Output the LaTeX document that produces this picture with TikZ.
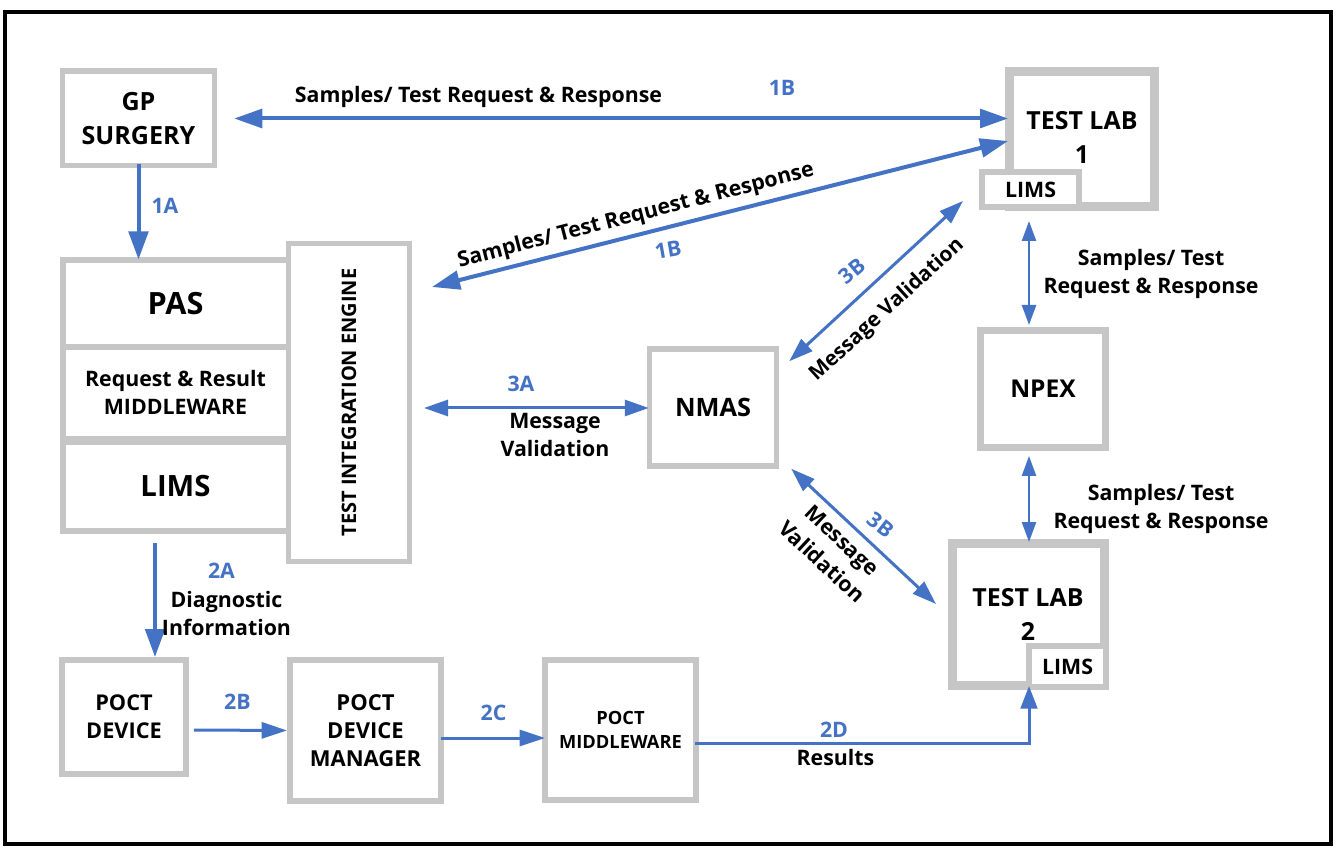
\documentclass[tikz,border=0pt]{standalone}
\usepackage{fontspec}
\setmainfont{Open Sans}
\usetikzlibrary{arrows.meta,calc}
\definecolor{bl}{HTML}{4472C4}
\definecolor{gr}{HTML}{C6C6C6}
\def\u{0.75pt}
\tikzset{
  x=0.75pt,y=-0.75pt,
  bx/.style={draw=gr,fill=white,inner sep=0pt,align=center,text=black,font=\bfseries\fontsize{16pt}{21pt}\selectfont},
  lbl/.style={inner sep=0pt,align=center,text=black,font=\bfseries\fontsize{16pt}{21pt}\selectfont},
  num/.style={inner sep=0pt,text=bl,font=\bfseries\fontsize{16pt}{18pt}\selectfont},
  ar/.style n args={3}{draw=bl,line width=#1*0.75pt,-{Triangle[length=#2pt,width=#3pt]}},
  biar/.style n args={3}{draw=bl,line width=#1*0.75pt,{Triangle[length=#2pt,width=#3pt]}-{Triangle[length=#2pt,width=#3pt]}},
}
\begin{document}
\begin{tikzpicture}
\useasboundingbox (0,0) rectangle (1339,855);
\fill[white] (0,0) rectangle (1339,855);
\node[draw=black,line width=3pt,inner sep=0pt,minimum width=1326*\u,minimum height=832*\u] (frame) at (668,428) {};
% boxes
\node[bx,line width=5.5*\u,minimum width=152*\u,minimum height=94.5*\u,font=\bfseries\fontsize{18.8pt}{25pt}\selectfont] (gp) at (138.5,118.5) {GP\\SURGERY};
\node[bx,line width=9*\u,minimum width=145*\u,minimum height=135*\u] (lab1) at (1082,139) {};
\node[lbl,font=\bfseries\fontsize{18.7pt}{25.5pt}\selectfont] (lab1t) at (1082,137) {TEST LAB\\1};
\node[bx,line width=6*\u,minimum width=97*\u,minimum height=35*\u] (lims1) at (1030.5,189.5) {LIMS};
\node[bx,line width=9*\u,minimum width=152*\u,minimum height=142*\u] (lab2) at (1028.5,614.5) {};
\node[lbl,font=\bfseries\fontsize{18.7pt}{25.5pt}\selectfont] (lab2t) at (1028,614) {TEST LAB\\2};
\node[bx,line width=6*\u,minimum width=77*\u,minimum height=41*\u] (lims2) at (1067.5,666.5) {LIMS};
\node[bx,line width=6*\u,minimum width=226*\u,minimum height=87*\u,font=\bfseries\fontsize{23pt}{24pt}\selectfont] (pas) at (175.5,304) {PAS};
\node[bx,line width=6*\u,minimum width=226*\u,minimum height=92*\u] (mid) at (175.5,393.5) {};
\node[lbl] (midt) at (175.5,392.5) {Request \& Result\\MIDDLEWARE};
\node[bx,line width=6*\u,minimum width=226*\u,minimum height=88.5*\u,font=\bfseries\fontsize{22pt}{24pt}\selectfont] (lims) at (175.5,486.25) {LIMS};
\node[bx,line width=5*\u,minimum width=121*\u,minimum height=318*\u,font=\bfseries\fontsize{15pt}{18pt}\selectfont] (eng) at (349,402.5) {\rotatebox{90}{TEST INTEGRATION ENGINE}};
\node[bx,line width=5.5*\u,minimum width=127*\u,minimum height=117*\u,font=\bfseries\fontsize{19pt}{21pt}\selectfont] (nmas) at (713,407.5) {NMAS};
\node[bx,line width=7*\u,minimum width=125*\u,minimum height=117*\u,font=\bfseries\fontsize{18.4pt}{21pt}\selectfont] (npex) at (1043,389) {NPEX};
\node[bx,line width=6*\u,minimum width=124*\u,minimum height=114*\u,font=\bfseries\fontsize{16.3pt}{21pt}\selectfont] (dev) at (124,717) {POCT\\DEVICE};
\node[bx,line width=6*\u,minimum width=151*\u,minimum height=141*\u,font=\bfseries\fontsize{16.5pt}{21pt}\selectfont] (man) at (365.5,730.5) {POCT\\DEVICE\\MANAGER};
\node[bx,line width=6*\u,minimum width=151*\u,minimum height=140*\u,font=\bfseries\fontsize{13.7pt}{18pt}\selectfont] (pm) at (620.5,730) {POCT\\MIDDLEWARE};
% connectors
\draw[biar={4}{21}{14}] ($(gp.east)+(17,0)$) -- ($(lab1.west |- gp.east)+(3,0)$);
\draw[ar={4}{21}{14.5}] ($(gp.south)+(0,-4)$) -- ($(pas.north -| gp.south)+(0,2)$);
\draw[biar={4}{21}{14}] ($(lab1.west)+(3,2)$) -- ($(eng.east)+(20,-115.5)$);
\draw[biar={3}{18}{12}] ($(lims1.south west)+(-16,-9)$) -- ($(nmas.north east)+(10,15)$);
\draw[biar={3}{18}{12}] ($(eng.east)+(12,5.5)$) -- ($(nmas.west)+(2,0.5)$);
\draw[biar={3}{18}{12}] ($(nmas.south east)+(12,0)$) -- ($(lab2.west)+(-12,-10.5)$);
\draw[biar={2.5}{15}{10.5}] ($(lab1.south)+(-53,10)$) -- ($(npex.north)+(-14,-2)$);
\draw[biar={2.5}{15}{10.5}] ($(npex.south)+(-14,5)$) -- ($(lab2.north)+(0.5,3)$);
\draw[ar={4}{21}{14.5}] ($(lims.south)+(-20.5,9.5)$) -- (dev.north -| 155,0);
\draw[ar={3}{19}{12}] ($(dev.east)+(5,13)$) -- (man.west);
\draw[ar={3}{19}{12}] ($(man.east)+(-3,7.5)$) -- ($(pm.west)+(3,8)$);
\draw[ar={3}{17}{12.5}] ($(pm.east)+(-4,13)$) -| ($(lims2.south west)+(3,-4)$);
% labels
\node[lbl] (t1) at (478.5,97) {Samples/ Test Request \& Response};
\node[num] (n1b) at (782,88) {1B};
\node[num] (n1a) at (165,206) {1A};
\node[lbl,rotate=14.5] (t2) at (636,216) {Samples/ Test Request \& Response};
\node[num,rotate=10] (n1b2) at (668,250) {1B};
\node[num,rotate=40] (n3b) at (852,271) {3B};
\node[lbl,rotate=42.5,font=\bfseries\fontsize{15.6pt}{21pt}\selectfont] (t3) at (887,310) {Message Validation};
\node[num] (n3a) at (521,384) {3A};
\node[lbl] (t4) at (555,434.5) {Message\\Validation};
\node[lbl] (t5) at (1151,274) {Samples/ Test\\Request \& Response};
\node[lbl] (t6) at (1161,509) {Samples/ Test\\Request \& Response};
\node[num,rotate=-38] (n3b2) at (881,525) {3B};
\node[lbl,rotate=-43,font=\bfseries\fontsize{16pt}{22pt}\selectfont] (t7) at (832,551) {Message\\Validation};
\node[num] (n2a) at (221.5,571) {2A};
\node[lbl] (t8) at (226.5,613) {Diagnostic\\Information};
\node[num] (n2b) at (237.5,702) {2B};
\node[num] (n2c) at (493.5,713) {2C};
\node[num] (n2d) at (834,730) {2D};
\node[lbl] (t9) at (835.5,757.5) {Results};
\end{tikzpicture}
\end{document}
